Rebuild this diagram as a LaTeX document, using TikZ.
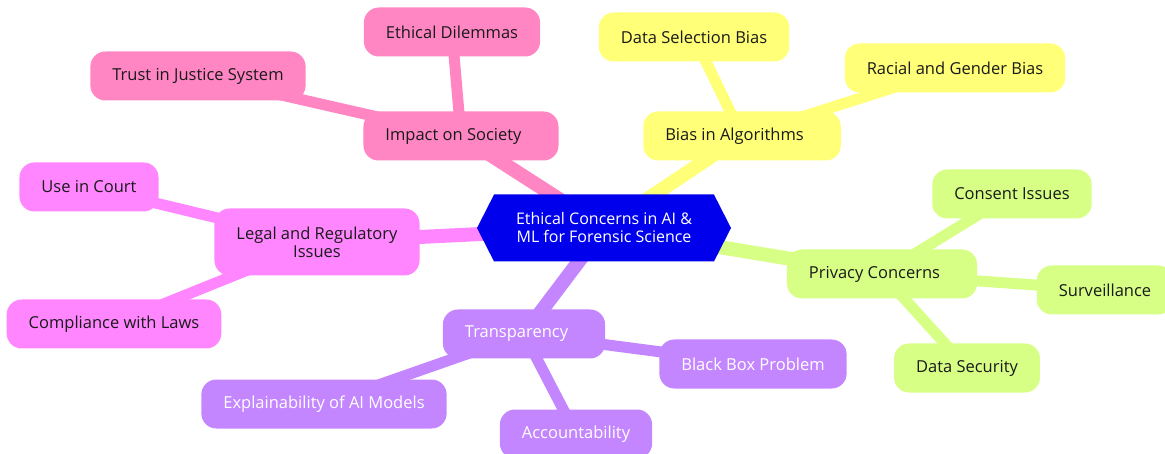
\documentclass[tikz,border=0pt]{standalone}
\usepackage{fontspec}
\setmainfont{Open Sans}
\usetikzlibrary{shapes.symbols,backgrounds}

\definecolor{rootblue}{HTML}{0000EC}
\definecolor{yellowbr}{HTML}{FFFF78}
\definecolor{greenbr}{HTML}{D7FF86}
\definecolor{purplebr}{HTML}{C386FF}
\definecolor{magentabr}{HTML}{FF86FF}
\definecolor{pinkbr}{HTML}{FF86C3}
\definecolor{darktext}{HTML}{1A1A1A}

\newcommand{\trail}{\hspace*{15pt}}

\tikzset{
  idea/.style={rectangle,rounded corners=15pt,inner xsep=22pt,minimum height=49pt,
    font=\fontsize{16.5}{18}\selectfont,text=darktext,align=center},
  rootnode/.style={signal,signal to=west and east,signal pointer angle=126,
    fill=rootblue,text=white,minimum width=254pt,minimum height=67pt,
    font=\fontsize{16}{18}\selectfont,align=center},
  mainedge/.style={line width=14pt},
  leafedge/.style={line width=11pt},
}

\begin{document}
\begin{tikzpicture}[x=1pt,y=-1pt]
    \useasboundingbox (0,0) rectangle (1165,454);

    \node[rootnode] (root) at (604,228) {Ethical Concerns in AI \&\\ML for Forensic Science} ;

    % Impact on Society
    \node[idea,fill=pinkbr] (society) at (461,136) {Impact on Society\trail} ;
    \node[idea,fill=pinkbr] (dilemmas) at (452,32) {Ethical Dilemmas} ;
    \node[idea,fill=pinkbr] (trust) at (198,76) {Trust in Justice System} ;

    % Bias in Algorithms
    \node[idea,fill=yellowbr] (bias) at (742,136) {Bias in Algorithms\trail} ;
    \node[idea,fill=yellowbr] (selection) at (694,37) {Data Selection Bias} ;
    \node[idea,fill=yellowbr] (racial) at (955,68) {Racial and Gender Bias} ;

    % Privacy Concerns
    \node[idea,fill=greenbr] (privacy) at (882,274) {Privacy Concerns\trail} ;
    \node[idea,fill=greenbr] (consent) at (1012,194) {Consent Issues} ;
    \node[idea,fill=greenbr] (surveil) at (1105,290) {Surveillance} ;
    \node[idea,fill=greenbr] (security) at (967,368) {Data Security} ;

    % Transparency
    \node[idea,fill=purplebr,text=white] (transp) at (524,334) {Transparency\trail} ;
    \node[idea,fill=purplebr,text=white] (blackbox) at (753,364) {Black Box Problem} ;
    \node[idea,fill=purplebr,text=white] (explain) at (324,404) {Explainability of AI Models} ;
    \node[idea,fill=purplebr,text=white] (account) at (576,434) {Accountability} ;

    % Legal and Regulatory Issues
    \node[idea,fill=magentabr,minimum height=67pt] (legal) at (317,242) {Legal and Regulatory\\Issues} ;
    \node[idea,fill=magentabr] (court) at (89,187) {Use in Court} ;
    \node[idea,fill=magentabr] (laws) at (114,324) {Compliance with Laws} ;

    \begin{scope}[on background layer]
    \draw[mainedge,pinkbr] (root.center) -- (society.center) ;
    \draw[mainedge,yellowbr] (root.center) -- (bias.center) ;
    \draw[mainedge,greenbr] (root.center) -- (privacy.center) ;
    \draw[mainedge,purplebr] (root.center) -- (transp.center) ;
    \draw[mainedge,magentabr] (root.center) -- (legal.center) ;

    \draw[leafedge,pinkbr] (society.center) -- (dilemmas.center) ;
    \draw[leafedge,pinkbr] (society.center) -- (trust.center) ;
    \draw[leafedge,yellowbr] (bias.center) -- (selection.center) ;
    \draw[leafedge,yellowbr] (bias.center) -- (racial.center) ;
    \draw[leafedge,greenbr] (privacy.center) -- (consent.center) ;
    \draw[leafedge,greenbr] (privacy.center) -- (surveil.center) ;
    \draw[leafedge,greenbr] (privacy.center) -- (security.center) ;
    \draw[leafedge,purplebr] (transp.center) -- (blackbox.center) ;
    \draw[leafedge,purplebr] (transp.center) -- (explain.center) ;
    \draw[leafedge,purplebr] (transp.center) -- (account.center) ;
    \draw[leafedge,magentabr] (legal.center) -- (court.center) ;
    \draw[leafedge,magentabr] (legal.center) -- (laws.center) ;
    \end{scope}
\end{tikzpicture}
\end{document}
